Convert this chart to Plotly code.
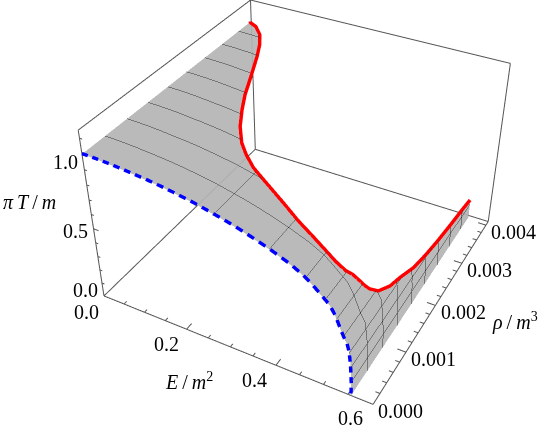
import numpy as np
import plotly.graph_objects as go

# one column of the sheet per energy: T at that E, and the rho where the red edge sits
E_COLS = [0, .004, .023, .049, .071, .091, .125, .145, .167, .192, .220, .244, .273, .301, .330, .360, .396, .432,
          .462, .480, .498, .509, .519, .5255, .531, .539, .5466, .5484, .5514, .5526, .5532, .5538, .5544, .5547, .5555, .556]
T_COLS = [1.0, 1.0, .999, .996, .992, .987, .978, .972, .964, .953, .939, .926, .906, .886, .862, .833, .795, .750,
          .700, .655, .605, .575, .525, .48, .44, .385, .345, .310, .250, .215, .190, .165, .150, .133, .08, 0.0]
RHO_COLS = [.004075, .004034, .003973, .003788, .00353, .003223, .002632, .002271, .001943, .001611, .001333, .001169,
            .001017, .000923, .000832, .000745, .00064, .00057, .00053, .00053, .00056, .00061, .00067, .00073, .0008,
            .000951, .001205, .001505, .001923, .002345, .002739, .003276, .003715, .004059, .004059, .004059]
N_RED = 34  # the last two columns lie past the end of the red curve

E_RANGE = [0, 0.6]
RHO_RANGE = [0, 0.0041]
T_RANGE = [0, 1.15]

T_LEVELS = [.1, .9, .1]
RHO_STEP = 0.000466

E_MAJOR = [0, .2, .4, .6]
E_MINOR = [.05, .1, .15, .25, .3, .35, .45, .5, .55]
RHO_MAJOR = [0, .001, .002, .003, .004]
RHO_MINOR = [.0002, .0004, .0006, .0008, .0012, .0014, .0016, .0018, .0022, .0024, .0026, .0028, .0032, .0034, .0036, .0038]
T_MAJOR = [0, .5, 1.0]
T_MINOR = [.1, .2, .3, .4, .6, .7, .8, .9, 1.1]

E_LABELS = ["0.0", "0.2", "0.4", "0.6"]
RHO_LABELS = ["0.000", "0.001", "0.002", "0.003", "0.004"]
T_LABELS = ["0.0", "0.5", "1.0"]

GRAY = "#b4b4b4"
BOX = "#555555"
FONT = dict(family="Liberation Serif", size=20, color="black")
LIFT = .004  # keeps the edge curves clear of the sheet

fig = go.Figure()

# the sheet
s = np.linspace(0, 1, 11)
fig.add_trace(go.Surface(
    x=[E_COLS for _ in s], y=[[r * f for r in RHO_COLS] for f in s], z=[T_COLS for _ in s],
    showscale=False, opacity=.92, colorscale=[[0, GRAY], [1, GRAY]], hoverinfo="skip",
    lighting=dict(ambient=1, diffuse=0, specular=0, fresnel=0),
    contours=dict(
        z=dict(show=True, start=T_LEVELS[0], end=T_LEVELS[1], size=T_LEVELS[2], color="#333333", width=2),
        y=dict(show=True, start=RHO_STEP, end=8.5 * RHO_STEP, size=RHO_STEP, color="#333333", width=2))))

# red edge
fig.add_trace(go.Scatter3d(x=E_COLS[:N_RED], y=RHO_COLS[:N_RED], z=[t + LIFT for t in T_COLS[:N_RED]],
                           mode="lines", line=dict(color="#ff0000", width=7), hoverinfo="skip"))

# blue edge at rho = 0, dashes cut by rough length on screen
path = np.concatenate([[0], np.cumsum(np.hypot(np.diff(E_COLS) * 480, np.diff(T_COLS) * 148))])
bx, bt = [], []
for a in np.arange(0, path[-1] - 3, 11.3):
    bx += list(np.interp([a, a + 6.5], path, E_COLS)) + [None]
    bt += list(np.interp([a, a + 6.5], path, T_COLS) + LIFT) + [None]
fig.add_trace(go.Scatter3d(x=bx, y=[0 if v is not None else None for v in bx], z=bt,
                           mode="lines", line=dict(color="#0000ff", width=7), hoverinfo="skip"))

# box edges
E0, E1 = E_RANGE
R0, R1 = RHO_RANGE
T0, T1 = T_RANGE
edges = [((E0, R0, T0), (E1, R0, T0)), ((E1, R0, T0), (E1, R1, T0)), ((E1, R1, T0), (E0, R1, T0)),
         ((E0, R1, T0), (E0, R0, T0)), ((E0, R0, T0), (E0, R0, T1)), ((E0, R1, T0), (E0, R1, T1)),
         ((E1, R1, T0), (E1, R1, T1)), ((E0, R0, T1), (E0, R1, T1)), ((E0, R1, T1), (E1, R1, T1))]
ex, ey, ez = [], [], []
for a, b in edges:
    ex += [a[0], b[0], None]
    ey += [a[1], b[1], None]
    ez += [a[2], b[2], None]

# tick marks
for v, size in [(E_MAJOR, .00012), (E_MINOR, .00006)]:
    for e in v:
        ex += [e, e, None]
        ey += [R0, R0 + size, None]
        ez += [T0, T0, None]
for v, size in [(RHO_MAJOR, .018), (RHO_MINOR, .009)]:
    for r in v:
        ex += [E1, E1 - size, None]
        ey += [r, r, None]
        ez += [T0, T0, None]
for v, size in [(T_MAJOR, .012), (T_MINOR, .006)]:
    for t in v:
        ex += [E0, E0 + size, None]
        ey += [R0, R0, None]
        ez += [t, t, None]
fig.add_trace(go.Scatter3d(x=ex, y=ey, z=ez, mode="lines", line=dict(color=BOX, width=2), hoverinfo="skip"))


def label(text, x, y, z, dx, dy, font=FONT):
    return dict(x=x, y=y, z=z, text=text, showarrow=False, xshift=dx, yshift=dy, xanchor="center", yanchor="middle", font=font)


notes = []
for e, t, d in zip(E_MAJOR, E_LABELS, [(-17, -16), (-20, -15), (-21, -15), (-22, -14)]):
    notes.append(label(t, e, R0, T0, *d))
for r, t in zip(RHO_MAJOR, RHO_LABELS):
    notes.append(label(t, E1, r, T0, 28, -7))
for v, t, d in zip(T_MAJOR, T_LABELS, [(-18, 6), (-18, -2), (-16, -8)]):
    notes.append(label(t, E0, R0, v, *d))
notes.append(label("<i>E</i>\u2009/\u2009<i>m</i><sup>2</sup>", .3, R0, T0, -41, -34))
notes.append(label("<i>ρ</i>\u2009/\u2009<i>m</i><sup>3</sup>", E1, .002, T0, 80, -16))
notes.append(label("<i>π</i>\u2009<i>T</i>\u2009/\u2009<i>m</i>", E0, R0, .65, -60, 5))

hidden = dict(visible=False)
fig.update_layout(
    width=545, height=828, margin=dict(l=0, r=0, t=0, b=0), showlegend=False,
    paper_bgcolor="white",
    scene=dict(
        domain=dict(x=[.102, 1], y=[0, 1]),
        xaxis=dict(range=E_RANGE, **hidden), yaxis=dict(range=RHO_RANGE, **hidden), zaxis=dict(range=T_RANGE, **hidden),
        aspectmode="manual", aspectratio=dict(x=1, y=1.0026, z=.6655),
        camera=dict(eye=dict(x=1.2748, y=-2.3852, z=1.957), center=dict(x=-.0133, y=-.0089, z=0), up=dict(x=.001, y=0, z=1)),
        annotations=notes))

# plotly's 3D view has a fixed 45 degree lens, so the tall scene is slid up to get the reference's perspective
POST = "document.body.style.margin='0';document.body.style.overflow='hidden';document.getElementById('{plot_id}').style.marginTop='-233px';"
fig.write_html("out.html", post_script=POST)
